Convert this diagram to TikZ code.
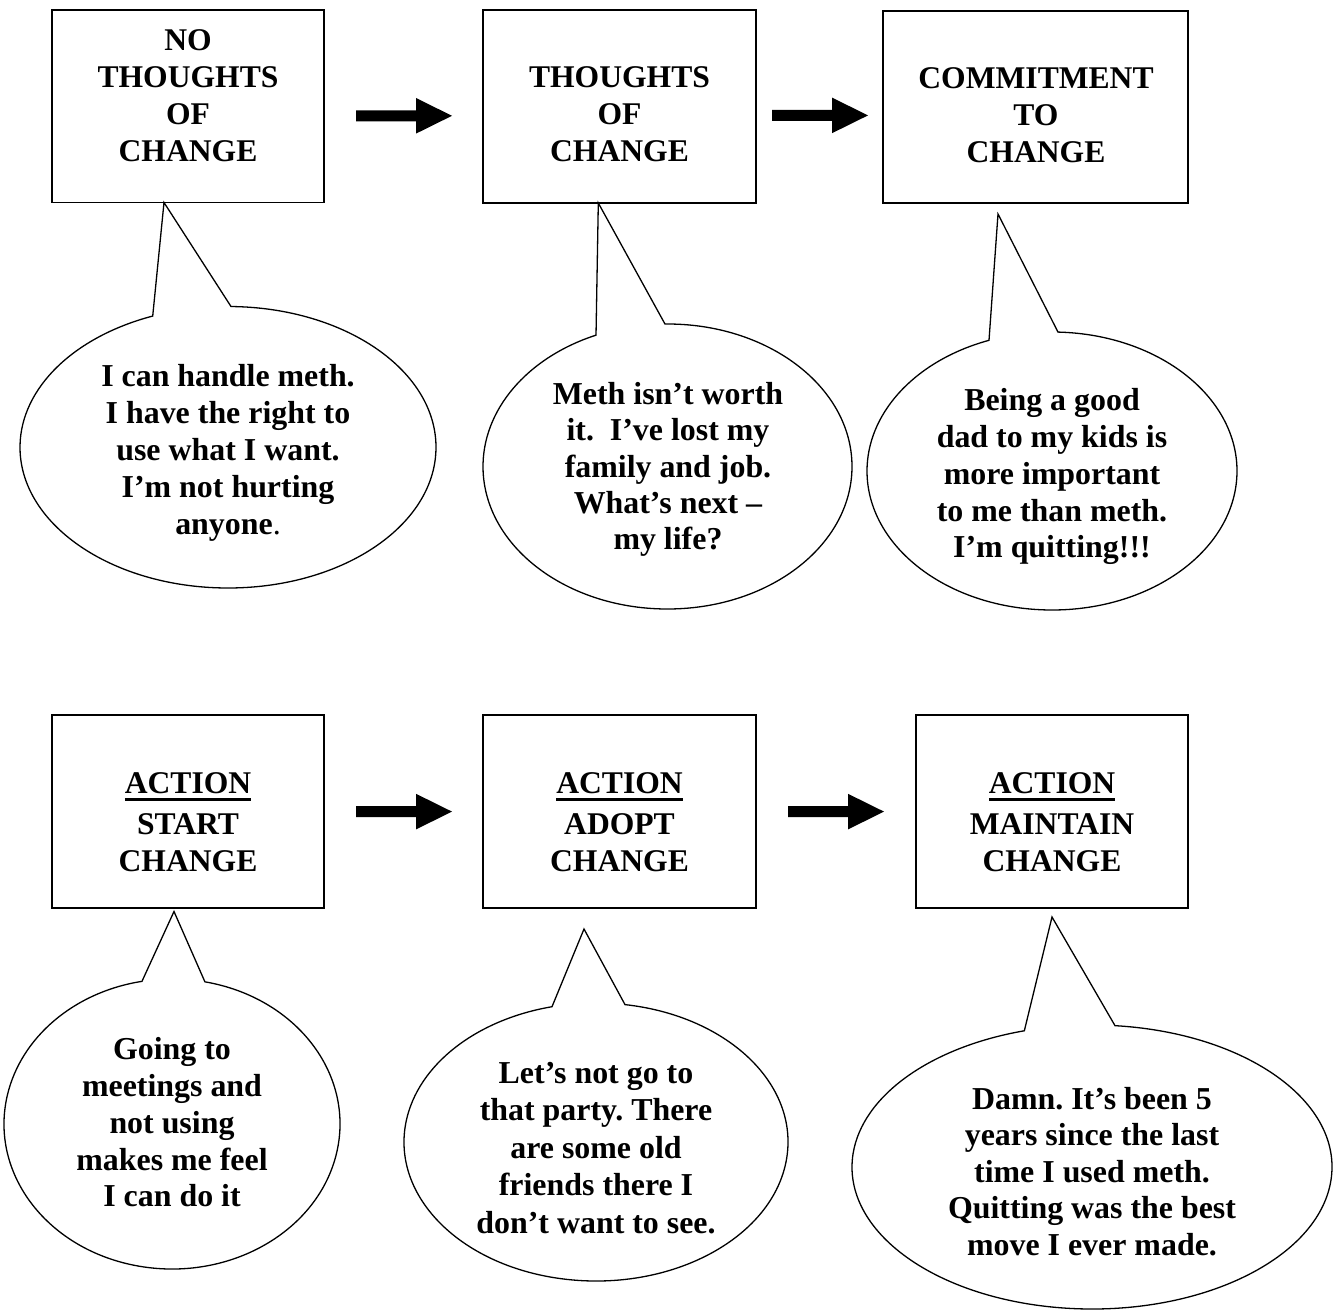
\documentclass[tikz,border=0pt]{standalone}
\usepackage{fontspec}
\setmainfont{Liberation Serif}
\frenchspacing
\newcommand{\strutwrap}[1]{\strut#1\strut}
\newcommand{\ulword}[1]{\sbox0{#1}\rlap{\rule[-6.8pt]{\wd0}{3pt}}\usebox0}
\newcommand{\bubble}[6]{%
  \draw[bubbleline] (#1) ++(#4:#2 and #3) arc[start angle=#4, end angle=#5, x radius=#2, y radius=#3] -- (#6) -- cycle;}
\newcommand{\blockarr}[1]{%
  \fill[blockfill] (#1) ++(0,-5.5) -- ++(60,0) -- ++(0,-12.3) -- ++(36,17.8) -- ++(-36,17.8) -- ++(0,-12.3) -- ++(-60,0) -- cycle;}
\tikzset{
  stagebox/.style={draw, line width=1.8pt, inner sep=0pt, outer sep=0pt},
  stagetext/.style={align=center, inner sep=0pt, font=\bfseries\fontsize{31.6}{37}\selectfont},
  saytext/.style={align=center, inner sep=0pt, font=\bfseries\fontsize{31.9}{#1}\selectfont},
  saytext/.default=37,
  bubbleline/.style={line width=1.3pt, line join=miter},
  blockfill/.style={fill=black}
}
\begin{document}
\begin{tikzpicture}[x=1pt,y=-1pt]
\fill[white] (0,0) rectangle (1338,1311);
\useasboundingbox (0,0) rectangle (1338,1311);

% stage boxes
\node[stagebox, minimum width=272pt, minimum height=192.5pt] (b1) at (188,106.25) {};
\node[stagebox, minimum width=273pt, minimum height=193pt] (b2) at (619.5,106.5) {};
\node[stagebox, minimum width=305pt, minimum height=192.3pt] (b3) at (1035.5,106.85) {};
\node[stagebox, minimum width=272pt, minimum height=193pt] (b4) at (188,811.5) {};
\node[stagebox, minimum width=273pt, minimum height=193pt] (b5) at (619.5,811.5) {};
\node[stagebox, minimum width=272pt, minimum height=193pt] (b6) at (1052,811.5) {};

% stage labels
\node[stagetext] (t1) at (188,98.2) {\strutwrap{NO\\THOUGHTS\\OF\\CHANGE}};
\node[stagetext] (t2) at (619.5,117) {\strutwrap{THOUGHTS\\OF\\CHANGE}};
\node[stagetext] (t3) at (1036,117.75) {\strutwrap{COMMITMENT\\TO\\CHANGE}};
\node[stagetext] (t4) at (188,825.4) {\strutwrap{\ulword{ACTION}\\[4pt]START\\CHANGE}};
\node[stagetext] (t5) at (619.5,825.4) {\strutwrap{\ulword{ACTION}\\[4pt]ADOPT\\CHANGE}};
\node[stagetext] (t6) at (1052,825.4) {\strutwrap{\ulword{ACTION}\\[4pt]MAINTAIN\\CHANGE}};

% block arrows
\coordinate (ar1) at (356,115.8);
\coordinate (ar2) at (772,115.4);
\coordinate (ar3) at (356,811.6);
\coordinate (ar4) at (788,811.6);
\blockarr{ar1}
\blockarr{ar2}
\blockarr{ar3}
\blockarr{ar4}

% speech bubbles
\coordinate (c1) at (228,447.25);  \coordinate (a1) at (164,202.5);
\coordinate (c2) at (667.5,466.5); \coordinate (a2) at (598.3,203);
\coordinate (c3) at (1052,471);    \coordinate (a3) at (998,214);
\coordinate (c4) at (172,1124);    \coordinate (a4) at (174,911.5);
\coordinate (c5) at (596,1142);    \coordinate (a5) at (584,929);
\coordinate (c6) at (1092,1167);   \coordinate (a6) at (1052,917);
\bubble{c1}{208}{140.75}{270.83}{608.78}{a1}
\bubble{c2}{184.5}{142.5}{269.22}{607.2}{a2}
\bubble{c3}{185}{139}{271.86}{610.09}{a3}
\bubble{c4}{168}{145}{281.3}{619.7}{a4}
\bubble{c5}{192}{139}{278.69}{616.75}{a5}
\bubble{c6}{240}{142}{275.5}{613.62}{a6}

% speech texts
\node[saytext=37] (s1) at (228,453) {\strutwrap{I can handle meth.\\I have the right to\\use what I want.\\I’m not hurting\\anyone\textmd{.}}};
\node[saytext=36.4] (s2) at (668,469.9) {\strutwrap{Meth isn’t worth\\it.~~I’ve lost my\\family and job.\\What’s next –\\my life?}};
\node[saytext=36.75] (s3) at (1052,477) {\strutwrap{Being a good\\dad to my kids is\\more important\\to me than meth.\\I’m quitting!!!}};
\node[saytext=36.8] (s4) at (172,1125.9) {\strutwrap{Going to\\meetings and\\not using\\makes me feel\\I can do it}};
\node[saytext=37.5] (s5) at (596,1150.8) {\strutwrap{Let’s not go to\\that party. There\\are some old\\friends there I\\don’t want to see.}};
\node[saytext=36.5] (s6) at (1092,1175) {\strutwrap{Damn. It’s been 5\\years since the last\\time I used meth.\\Quitting was the best\\move I ever made.}};
\end{tikzpicture}
\end{document}
